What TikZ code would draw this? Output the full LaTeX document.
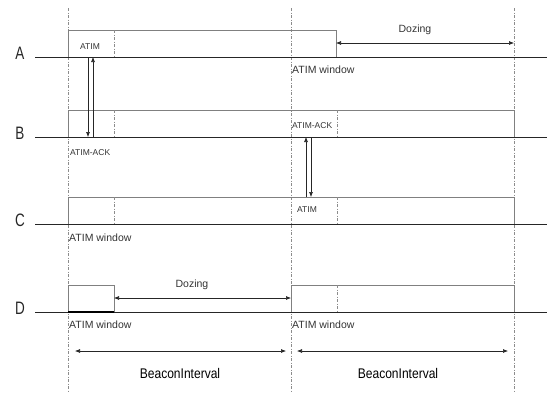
\documentclass[tikz,border=0pt]{standalone}
\usepackage{fontspec}
\setmainfont{Liberation Sans}
\usetikzlibrary{arrows.meta}
\tikzset{
  tline/.style={line width=0.8pt, black!85},
  frame/.style={line width=0.7pt, black!50},
  guide/.style={line width=0.5pt, black!45, dash pattern=on 3pt off 1.5pt on 1pt off 1.5pt},
  arr/.style={-{Latex[length=5pt,width=4pt]}, line width=0.6pt, black!85},
  darr/.style={{Latex[length=5pt,width=4pt]}-{Latex[length=5pt,width=4pt]}, line width=0.6pt, black!85},
  small/.style={font=\fontsize{8.5}{10}\selectfont, inner sep=0pt, text=black!80},
  mid/.style={font=\fontsize{10.5}{12}\selectfont, inner sep=0pt, text=black!80},
  big/.style={font=\fontsize{14}{16}\selectfont, inner sep=0pt, xscale=0.86},
  rowlabel/.style={font=\fontsize{18}{20}\selectfont, inner sep=0pt, xscale=0.75, text=black!85},
}
\begin{document}
\begin{tikzpicture}[x=1pt,y=-1pt]
\useasboundingbox (0,0) rectangle (547,392);
% guides
\foreach \gx in {68,291,514} \draw[guide] (\gx,8) -- (\gx,392);
% A
\draw[frame] (68,57) -- (68,30) -- (336,30) -- (336,57);
\draw[guide] (114,30) -- (114,57);
\draw[tline] (35,57) -- (547,57);
\node[rowlabel] (lA) at (20,53) {A};
% B
\draw[frame] (68,137) -- (68,110) -- (514,110) -- (514,137);
\draw[guide] (114,110) -- (114,137);
\draw[guide] (337,110) -- (337,137);
\draw[tline] (35,137) -- (547,137);
\node[rowlabel] (lB) at (20,133) {B};
% C
\draw[frame] (68,224) -- (68,197) -- (514,197) -- (514,224);
\draw[guide] (114,197) -- (114,224);
\draw[guide] (337,197) -- (337,224);
\draw[tline] (35,224) -- (547,224);
\node[rowlabel] (lC) at (20,220) {C};
% D
\draw[frame] (68,312) -- (68,285) -- (114,285) -- (114,312);
\draw[frame] (291,312) -- (291,285) -- (514,285) -- (514,312);
\draw[guide] (337,285) -- (337,312);
\draw[tline] (35,312) -- (547,312);
\draw[line width=1.2pt] (68,312) -- (114,312);
\node[rowlabel] (lD) at (20,308) {D};
% coordinates
\coordinate (a1) at (88,57);   \coordinate (b1) at (88,137);
\coordinate (b2) at (93,137);  \coordinate (a2) at (93,57);
\coordinate (c1) at (306,197); \coordinate (b3) at (306,137);
\coordinate (b4) at (311,137); \coordinate (c2) at (311,197);
\coordinate (dzA1) at (336,43); \coordinate (dzA2) at (514,43);
\coordinate (dzD1) at (291,298); \coordinate (dzD2) at (114,298);
\coordinate (bi1) at (75,351); \coordinate (bi2) at (286,351);
\coordinate (bi3) at (297,351); \coordinate (bi4) at (508,351);
\draw[arr] (a1) -- (b1);
\draw[arr] (b2) -- (a2);
\draw[arr] (c1) -- (b3);
\draw[arr] (b4) -- (c2);
\draw[darr] (dzA1) -- (dzA2);
\draw[darr] (dzD2) -- (dzD1);
\draw[darr] (bi1) -- (bi2);
\draw[darr] (bi3) -- (bi4);
% texts
\node[small] (t1) at (90,47) {ATIM};
\node[mid, anchor=west] (t2) at (292,70) {ATIM window};
\node[mid] (t3) at (415,30) {Dozing};
\node[small, anchor=west] (t4) at (70,153) {ATIM-ACK};
\node[small, anchor=west] (t5) at (292,126) {ATIM-ACK};
\node[small] (t6) at (307,210) {ATIM};
\node[mid, anchor=west] (t7) at (69,238) {ATIM window};
\node[mid] (t8) at (192,285) {Dozing};
\node[mid, anchor=west] (t9) at (69,325) {ATIM window};
\node[mid, anchor=west] (t10) at (292,325) {ATIM window};
\node[big] (t11) at (180,373) {BeaconInterval};
\node[big] (t12) at (398,373) {BeaconInterval};
\end{tikzpicture}
\end{document}
